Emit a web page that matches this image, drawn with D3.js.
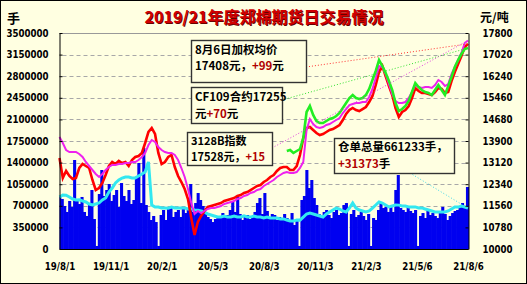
<!DOCTYPE html>
<html>
<head>
<meta charset="utf-8">
<script src="https://cdn.jsdelivr.net/npm/d3@7"></script>
<style>
  body { margin: 0; background: #fff; }
  svg { display: block; }
  .num { font-family: "DejaVu Sans", sans-serif; font-stretch: condensed; font-weight: bold; font-size: 9.6px; fill: #000; }
  .cjk { font-family: "Noto Sans CJK SC", sans-serif; font-weight: bold; }
</style>
</head>
<body>
<svg id="chart" width="527" height="284"></svg>
<script>
// ---- data ----
var dateLabels = ["19/8/1","19/11/1","20/2/1","20/5/3","20/8/3","20/11/3","21/2/3","21/5/6","21/8/6"];
var labelDays = [0,62,124,186,248,310,372,434,496];
var volTicks = [0,350000,700000,1050000,1400000,1750000,2100000,2450000,2800000,3150000,3500000];
var priceTicks = [10000,10780,11560,12340,13120,13900,14680,15460,16240,17020,17800];

var LINE_STEP = 4, BAR_STEP = 3, CF_START = 276;

// 加权均价 (元/吨), one value every 4 trading days
var weightedAvg = [13286,12564,12817,12636,12528,12564,12925,13069,12997,12925,
  12492,12130,12203,12383,12672,12997,13142,13069,13178,13105,
  13142,12997,13214,13322,13358,13467,13828,14225,14369,14153,
  13467,13069,13142,13322,13394,12961,12636,12419,12167,11806,
  11119,10506,10975,11192,11372,11517,11553,11589,11625,11661,
  11733,11769,11806,11842,11914,11950,12022,12058,12130,12203,
  12275,12311,12419,12492,12600,12672,12817,12925,12961,12961,
  12853,12853,12997,13394,14008,14369,14405,14297,14189,14117,
  14153,14225,14297,14333,14405,14478,14658,14875,15019,15092,
  15019,14983,15055,15128,15308,15525,15922,16391,16608,16247,
  15886,15561,15092,14767,14947,15019,15164,15453,15814,15705,
  15633,15633,15597,15561,15669,15814,15778,15633,15669,16066,
  16391,16680,16969,17294,17408];

// 3128B指数 (元/吨)
var index3128B = [14044,13828,13575,13503,13503,13503,13430,13322,13142,12997,
  12853,12708,12600,12708,12853,12961,13033,13033,13069,13069,
  13105,13105,13142,13142,13214,13322,13467,13755,13936,13864,
  13683,13575,13503,13467,13467,13394,13214,12925,12600,12167,
  11661,11264,11372,11300,11372,11444,11481,11481,11517,11553,
  11625,11661,11697,11733,11806,11842,11914,11950,12022,12058,
  12130,12167,12275,12347,12419,12492,12600,12672,12744,12780,
  12744,12744,12780,12925,13142,14297,14694,14514,14405,14369,
  14405,14478,14514,14586,14658,14730,14911,15055,15200,15236,
  15272,15272,15308,15308,15489,15778,16175,16608,16572,16319,
  15958,15597,15344,15272,15272,15308,15453,15669,15922,15850,
  15814,15850,15850,15814,15922,16103,16030,15886,15958,16319,
  16572,16825,17078,17439,17528];

// CF109合约 (元/吨), from trading day 276
var cf109 = [13539,13575,13467,13539,13611,14008,14947,15164,14839,14622,
  14550,14550,14622,14694,14730,14803,14911,15092,15272,15453,
  15561,15453,15417,15453,15561,15778,16103,16428,16825,16608,
  16355,16066,15741,15272,14983,15055,15164,15344,15669,15994,
  15850,15741,15669,15633,15561,15741,15922,15741,15561,15886,
  16211,16572,16825,17041,17222,17255];

// 仓单总量 (手)
var receipts = [843000,875000,871000,842000,810000,794000,796000,778000,762000,729000,
  713000,729000,745000,794000,826000,924000,988000,1070000,1118000,1150000,
  1167000,1165000,1150000,1152000,1183000,1215000,1248000,1410000,713000,681000,
  679000,664000,666000,662000,681000,664000,663000,665000,664000,648000,
  650000,632000,630000,616000,600000,567000,551000,535000,518000,520000,
  535000,517000,519000,534000,518000,520000,536000,518000,517000,534000,
  518000,519000,502000,518000,503000,501000,502000,486000,487000,470000,
  454000,452000,470000,468000,518000,567000,583000,568000,551000,535000,
  518000,567000,600000,632000,664000,648000,616000,600000,664000,745000,
  664000,632000,616000,600000,616000,664000,713000,762000,745000,713000,
  681000,697000,713000,711000,697000,695000,681000,679000,682000,664000,
  666000,648000,632000,616000,600000,598000,601000,599000,616000,648000,
  681000,679000,697000,681000,661233];

// 成交量 (手), one bar every 3 trading days
var volume = [843000,810000,697000,600000,778000,681000,1442000,794000,729000,843000,
  600000,535000,745000,956000,486000,49000,891000,1280000,859000,956000,
  1053000,778000,875000,956000,681000,1069000,859000,778000,956000,729000,
  794000,1150000,1394000,745000,1637000,713000,600000,470000,535000,437000,
  49000,551000,632000,470000,648000,681000,519000,600000,632000,519000,
  681000,583000,632000,1053000,600000,745000,907000,794000,697000,600000,
  519000,486000,437000,486000,502000,535000,583000,519000,551000,632000,
  762000,600000,843000,567000,470000,519000,551000,486000,519000,600000,
  745000,826000,567000,907000,616000,502000,567000,551000,470000,519000,
  486000,567000,502000,454000,583000,389000,470000,49000,794000,859000,
  1280000,988000,1118000,826000,713000,567000,519000,600000,632000,551000,
  502000,600000,632000,551000,583000,713000,745000,49000,567000,632000,
  519000,551000,600000,535000,470000,567000,49000,502000,470000,632000,
  745000,664000,681000,600000,681000,600000,956000,1199000,664000,632000,
  600000,681000,616000,583000,632000,49000,535000,583000,502000,632000,
  551000,583000,535000,502000,600000,681000,567000,470000,535000,583000,
  616000,632000,697000,745000,664000,1005000];

// ---- layout ----
var W = 527, H = 284;
var L = 59.5, R = 468.5, T = 33, B = 249;
var BG = "#ffffe1";

var svg = d3.select("#chart");

svg.append("rect").attr("x",0.5).attr("y",0.5).attr("width",W-1).attr("height",H-1)
  .attr("fill",BG).attr("stroke","#000");

var x = d3.scaleLinear().domain([0,496]).range([L,R-0.5]);
var yVol = d3.scaleLinear().domain([0,3500000]).range([B,T]);
var yPrice = d3.scaleLinear().domain([10000,17800]).range([B,T]);

// grid
svg.append("g").selectAll("line").data(volTicks.slice(1,-1)).join("line")
  .attr("x1",L+3).attr("x2",R-3)
  .attr("y1",d=>Math.round(yVol(d))+0.5).attr("y2",d=>Math.round(yVol(d))+0.5)
  .attr("stroke","#a8a8a8").attr("stroke-dasharray","4,3");
svg.append("line").attr("x1",L).attr("x2",R).attr("y1",T+0.5).attr("y2",T+0.5)
  .attr("stroke","#999");

// volume bars
var half = BAR_STEP/2;
svg.append("g").selectAll("rect").data(volume).join("rect")
  .attr("x",(d,j)=>Math.max(L, x(j*BAR_STEP-half)))
  .attr("width",(d,j)=>Math.min(R, x(j*BAR_STEP+half)) - Math.max(L, x(j*BAR_STEP-half)) + 0.6)
  .attr("y",d=>yVol(d))
  .attr("height",d=>B-yVol(d))
  .attr("fill","#0000f0");

// lines
var volLine = d3.line().x((d,i)=>x(i*LINE_STEP)).y(d=>yVol(d));
var priceLine = d3.line().x((d,i)=>x(i*LINE_STEP)).y(d=>yPrice(d));
var cfLine = d3.line().x((d,i)=>x(CF_START+i*LINE_STEP)).y(d=>yPrice(d));

svg.append("path").attr("d",volLine(receipts)).attr("fill","none")
  .attr("stroke","#33e8f0").attr("stroke-width",3);
svg.append("path").attr("d",priceLine(weightedAvg)).attr("fill","none")
  .attr("stroke","#ff0000").attr("stroke-width",2.6);
svg.append("path").attr("d",priceLine(index3128B)).attr("fill","none")
  .attr("stroke","#ee22ee").attr("stroke-width",2);
svg.append("path").attr("d",cfLine(cf109)).attr("fill","none")
  .attr("stroke","#22ee22").attr("stroke-width",2.6);

// axes
var axL = svg.append("g").attr("transform","translate("+L+",0)")
  .call(d3.axisLeft(yVol).tickValues(volTicks).tickSize(-3).tickSizeOuter(0).tickPadding(11).tickFormat(d3.format("d")));
var axR = svg.append("g").attr("transform","translate("+R+",0)")
  .call(d3.axisRight(yPrice).tickValues(priceTicks).tickSize(-3).tickSizeOuter(0).tickPadding(14).tickFormat(d3.format("d")));
var axB = svg.append("g").attr("transform","translate(0,"+B+")")
  .call(d3.axisBottom(x).tickValues(labelDays).tickSize(0).tickPadding(14).tickFormat((d,i)=>dateLabels[i]));
[axL,axR,axB].forEach(function(a){
  a.selectAll("text").attr("class","num").attr("fill",null);
  a.select(".domain").attr("stroke","#000");
  a.selectAll(".tick line").attr("stroke","#000");
});

// titles
svg.append("text").attr("class","cjk").attr("x",264).attr("y",23).attr("text-anchor","middle")
  .attr("font-size",16).attr("fill","#600").attr("dx",1).attr("dy",1)
  .text("2019/21年度郑棉期货日交易情况");
svg.append("text").attr("class","cjk").attr("x",264).attr("y",23).attr("text-anchor","middle")
  .attr("font-size",16).attr("fill","#d00000")
  .text("2019/21年度郑棉期货日交易情况");
svg.append("text").attr("class","cjk").attr("x",7).attr("y",23).attr("font-size",13).text("手");
svg.append("text").attr("class","cjk").attr("x",480).attr("y",22).attr("font-size",12).text("元/吨");

// annotation boxes with dotted leaders
var last = function(arr){ return arr[arr.length-1]; };
var notes = [
  {box:[191,40,115,42], from:[306,67], to:[x(496),yPrice(last(weightedAvg))], color:"#ff3030",
   lines:[[["8月6日加权均价",0]],[["17408元，",0],["+99",1],["元",0]]], base:54, gap:16, fs:11.5},
  {box:[191,87,91,36], from:[282,100], to:[x(496),yPrice(last(cf109))], color:"#30e030",
   lines:[[["CF109合约17255",0]],[["元",0],["+70",1],["元",0]]], base:101, gap:16.5, fs:11.5},
  {box:[187,132,85,33], from:[272,148], to:[x(496),yPrice(last(index3128B))], color:"#e040e0",
   lines:[[["3128B指数",0]],[["17528元，",0],["+15",1]]], base:145, gap:16, fs:11},
  {box:[334,138,120,35], from:[410,173], to:[x(496),yVol(last(receipts))], color:"#40d8e8",
   lines:[[["仓单总量661233手，",0]],[["+31373",1],["手",0]]], base:151, gap:16.5, fs:11.5}
];
notes.forEach(function(n){
  svg.append("line").attr("x1",n.from[0]).attr("y1",n.from[1]).attr("x2",n.to[0]).attr("y2",n.to[1])
    .attr("stroke",n.color).attr("stroke-width",1).attr("stroke-dasharray","1,2");
  svg.append("rect").attr("x",n.box[0]+0.5).attr("y",n.box[1]+0.5).attr("width",n.box[2]).attr("height",n.box[3])
    .attr("fill",BG).attr("stroke","#333").attr("stroke-width",1.4);
  // one text element per box, lines as tspans
  var t = svg.append("text").attr("class","cjk").attr("x",n.box[0]+4).attr("y",n.base).attr("font-size",n.fs);
  n.lines.forEach(function(parts,k){
    parts.forEach(function(p,m){
      var s = t.append("tspan").attr("fill",p[1] ? "#b00000" : "#000").text(p[0]);
      if (m === 0 && k > 0) s.attr("x",n.box[0]+4).attr("dy",n.gap);
    });
  });
});
</script>
</body>
</html>
